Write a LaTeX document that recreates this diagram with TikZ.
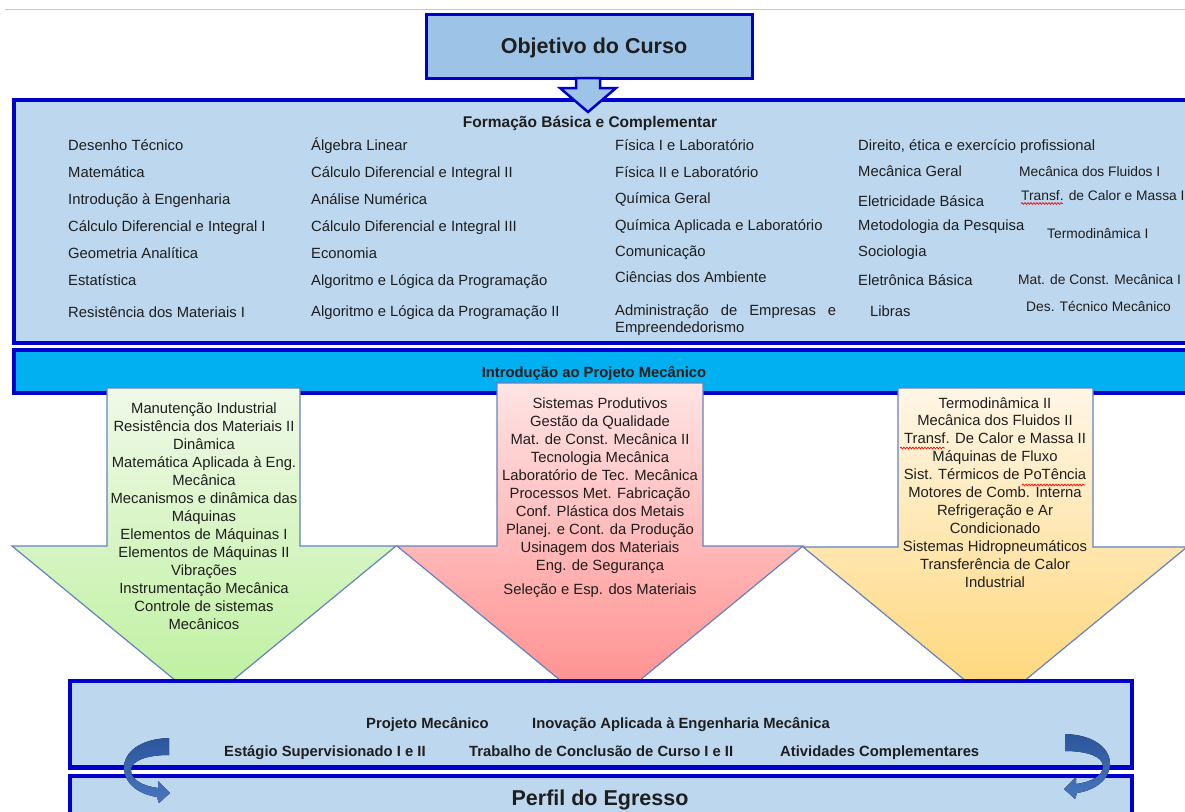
\documentclass[tikz,border=0pt]{standalone}
\usepackage{fontspec}
\setmainfont{Liberation Sans}
\usetikzlibrary{decorations.pathmorphing}
\definecolor{objfill}{RGB}{157,195,230}
\definecolor{boxfill}{RGB}{189,215,238}
\definecolor{bordblue}{RGB}{0,0,204}
\definecolor{bandfill}{RGB}{0,176,240}
\definecolor{arrline}{RGB}{100,130,190}
\definecolor{gtop}{RGB}{240,249,232}
\definecolor{gbot}{RGB}{188,240,156}
\definecolor{rtop}{RGB}{255,228,228}
\definecolor{rbot}{RGB}{255,138,138}
\definecolor{ytop}{RGB}{255,246,230}
\definecolor{ybot}{RGB}{255,214,118}
\definecolor{cdark}{RGB}{44,86,156}
\definecolor{clight}{RGB}{72,118,190}
\definecolor{txtc}{RGB}{30,30,30}
\begin{document}
\begin{tikzpicture}[x=1pt,y=-1pt,
  item/.style={anchor=base west, inner sep=0pt, text=txtc, font=\fontsize{14.8}{18}\selectfont},
  itemsmall/.style={anchor=base west, inner sep=0pt, text=txtc, font=\fontsize{13.8}{17}\selectfont},
  atxt/.style={anchor=base, inner sep=0pt, text=txtc, font=\fontsize{14.8}{18}\selectfont},
  btxt/.style={anchor=base west, inner sep=0pt, text=txtc, font=\bfseries\fontsize{14.8}{18}\selectfont},
  bigtxt/.style={anchor=base, inner sep=0pt, text=txtc, font=\bfseries\fontsize{21.5}{26}\selectfont},
  bluebox/.style={draw=bordblue, fill=boxfill, line width=4.5pt},
  bigarrow/.style={draw=arrline, line width=1.2pt},
  spell/.style={red, line width=0.7pt, decorate, decoration={snake, amplitude=0.9pt, segment length=3pt}},
  curvarrow/.style={shade, top color=cdark, bottom color=clight}
]
\useasboundingbox (0,0) rectangle (1185,811);
\clip (0,0) rectangle (1185,811);

% top grey rule
\draw[black!22, line width=1.5pt] (5,9.5) -- (1185,9.5);

% Objetivo do Curso
\node[draw=bordblue, fill=objfill, line width=3pt, minimum width=326pt, minimum height=64pt, inner sep=0pt] (obj) at (589,46) {};
\node[bigtxt] (objt) at (594,53) {Objetivo do Curso};

% Formacao Basica e Complementar
\draw[bluebox, line width=4pt] (14,100) rectangle (1205,342.5);
\coordinate (formtop) at (588,100);

% arrow Objetivo -> Formacao
\draw[draw=bordblue, fill=objfill, line width=2.5pt, line join=miter]
  (576,78) -- (576,88) -- (560,88) -- (588,112) -- (616,88) -- (600,88) -- (600,78) -- cycle;

\node[anchor=base, inner sep=0pt, text=txtc, font=\bfseries\fontsize{15.5}{18}\selectfont] (formt) at (590,127.5) {Formação Básica e Complementar};

\foreach \x/\y/\t [count=\i] in {
  68/145/Desenho Técnico, 68/172/Matemática, 68/199/Introdução à Engenharia,
  68/226/Cálculo Diferencial e Integral I, 68/253/Geometria Analítica, 68/280/Estatística,
  68/312/Resistência dos Materiais I,
  311/145/Álgebra Linear, 311/172/Cálculo Diferencial e Integral II, 311/199/Análise Numérica,
  311/226/Cálculo Diferencial e Integral III, 311/253/Economia,
  311/280/Algoritmo e Lógica da Programação, 311/311/Algoritmo e Lógica da Programação II,
  615/145/Física I e Laboratório, 615/172/Física II e Laboratório, 615/198/Química Geral,
  615/225/Química Aplicada e Laboratório, 615/251/Comunicação, 615/277/Ciências dos Ambiente,
  615/327/Empreendedorismo,
  858/145/{Direito, ética e exercício profissional}, 858/171/Mecânica Geral,
  858/201/Eletricidade Básica, 858/225/Metodologia da Pesquisa, 858/251/Sociologia,
  858/280/Eletrônica Básica, 870/311/Libras}
  \node[item] (fb\i) at (\x,\y+5) {\t};
\node[item] (fbadm) at (615,315) {\hbox to 221pt{Administração\hfill de\hfill Empresas\hfill e}};

\foreach \x/\y/\t [count=\i] in {
  1019/171/Mecânica dos Fluidos I, 1021/195/Transf. de Calor e Massa I,
  1047/233/Termodinâmica I, 1018/279/Mat. de Const. Mecânica I,
  1026/306/Des. Técnico Mecânico}
  \node[itemsmall] (fc\i) at (\x,\y+5) {\t};
\draw[spell] (1021,203.5) -- (1063,203.5);

% band
\draw[draw=bordblue, fill=bandfill, line width=4.5pt] (14,350) rectangle (1205,393);
\node[anchor=base, inner sep=0pt, text=txtc, font=\bfseries\fontsize{14.8}{18}\selectfont] (band) at (594,377) {Introdução ao Projeto Mecânico};

% three big arrows
\draw[bigarrow, shade, top color=gtop, bottom color=gbot]
  (107,388) -- (300,388) -- (300,546) -- (396,546) -- (204,704) -- (12,546) -- (107,546) -- cycle;
\draw[bigarrow, shade, top color=rtop, bottom color=rbot]
  (497,383) -- (703,383) -- (703,546) -- (803,546) -- (600,713) -- (397,546) -- (497,546) -- cycle;
\draw[bigarrow, shade, top color=ytop, bottom color=ybot]
  (898,388) -- (1093,388) -- (1093,547) -- (1187,547) -- (995,705) -- (803,547) -- (898,547) -- cycle;

\foreach \t [count=\i] in {Manutenção Industrial, Resistência dos Materiais II, Dinâmica,
  Matemática Aplicada à Eng., Mecânica, Mecanismos e dinâmica das, Máquinas,
  Elementos de Máquinas I, Elementos de Máquinas II, Vibrações, Instrumentação Mecânica,
  Controle de sistemas, Mecânicos}
  \node[atxt] (g\i) at (204,413+18*\i-18) {\t};

\foreach \t [count=\i] in {Sistemas Produtivos, Gestão da Qualidade, Mat. de Const. Mecânica II,
  Tecnologia Mecânica, Laboratório de Tec. Mecânica, Processos Met. Fabricação,
  Conf. Plástica dos Metais, Planej. e Cont. da Produção, Usinagem dos Materiais,
  Eng. de Segurança}
  \node[atxt] (r\i) at (600,408+18*\i-18) {\t};
\node[atxt] (r11) at (600,594) {Seleção e Esp. dos Materiais};

\foreach \t [count=\i] in {Termodinâmica II, Mecânica dos Fluidos II, Transf. De Calor e Massa II,
  Máquinas de Fluxo, Sist. Térmicos de PoTência, Motores de Comb. Interna,
  Refrigeração e Ar, Condicionado, Sistemas Hidropneumáticos, Transferência de Calor, Industrial}
  \node[atxt] (y\i) at (995,408+17.9*\i-17.9) {\t};
\draw[spell] (900,448) -- (945,448);
\draw[spell] (1022,485) -- (1085,485);

% bottom box
\draw[bluebox] (70,681) rectangle (1132,767.5);
\node[btxt] (pm) at (366,728) {Projeto Mecânico};
\node[btxt] (inov) at (532,728) {Inovação Aplicada à Engenharia Mecânica};
\node[btxt] (est) at (224,756) {Estágio Supervisionado I e II};
\node[btxt] (tcc) at (469,756) {Trabalho de Conclusão de Curso I e II};
\node[btxt] (ativ) at (780,756) {Atividades Complementares};

% Perfil do Egresso
\draw[bluebox] (70,776) rectangle (1132,830);
\node[bigtxt] (perfil) at (600,805) {Perfil do Egresso};

% curved arrows
\fill[curvarrow]
  (169,738) .. controls (140,739) and (124,752) .. (124,768)
  .. controls (124,783) and (138,794) .. (157,797)
  -- (159,803) -- (170,793) -- (158,781) -- (158,788)
  .. controls (143,786) and (131,780) .. (131,770)
  .. controls (131,761) and (146,755) .. (169,755) -- cycle;
\begin{scope}[shift={(1234,-4)}, xscale=-1]
\fill[curvarrow]
  (169,738) .. controls (140,739) and (124,752) .. (124,768)
  .. controls (124,783) and (138,794) .. (157,797)
  -- (159,803) -- (170,793) -- (158,781) -- (158,788)
  .. controls (143,786) and (131,780) .. (131,770)
  .. controls (131,761) and (146,755) .. (169,755) -- cycle;
\end{scope}
\end{tikzpicture}
\end{document}
